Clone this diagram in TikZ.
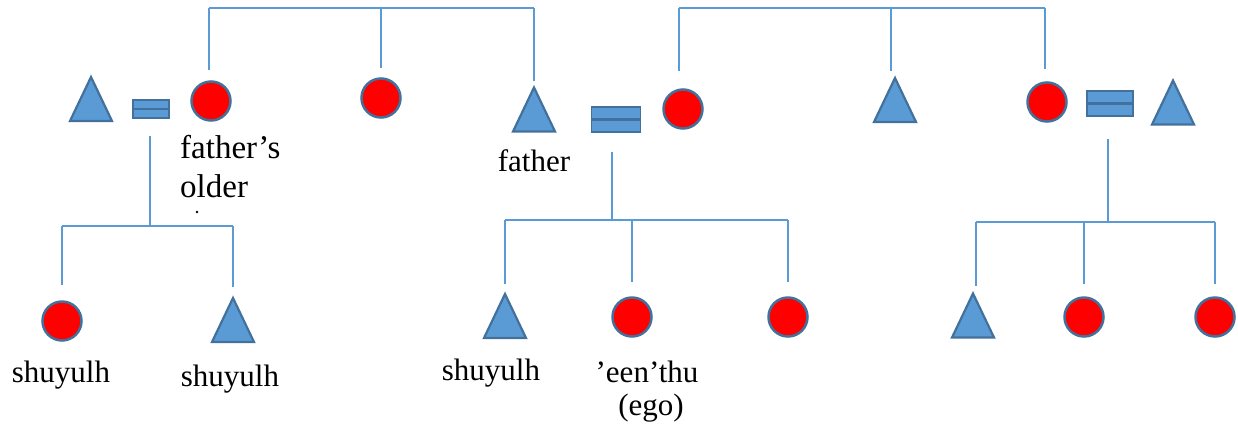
\documentclass[tikz,border=0pt]{standalone}
\usepackage{fontspec}
\setmainfont{Liberation Serif}
\definecolor{kblue}{HTML}{5B9BD5}
\definecolor{kedge}{HTML}{41719C}
\tikzset{
  fem/.style={circle, fill=red, draw=kedge, line width=2.5pt, minimum size=39pt, inner sep=0pt},
  eqbar/.style={rectangle, fill=kblue, draw=kedge, line width=1.8pt, inner sep=0pt},
  kin/.style={draw=kblue, line width=1.5pt},
  lbl/.style={font=\fontsize{31}{34}\selectfont, inner sep=0pt, anchor=base},
  biglbl/.style={font=\fontsize{33}{38}\selectfont, inner sep=0pt, anchor=base west},
  tri/.pic={
    \path[fill=kblue, draw=kedge, line width=2.2pt, line join=miter]
      (-21,22) -- (0,-22) -- (21,22) -- cycle;
    \coordinate (-top) at (0,-22);
  },
}
\begin{document}
\begin{tikzpicture}[x=1pt, y=-1pt]
\useasboundingbox (0,0) rectangle (1238,429);

% ---- top generation ----
\pic (t1) at (91,99) {tri};
\node[eqbar, minimum width=36pt, minimum height=9pt] (e1a) at (151,104.5) {};
\node[eqbar, minimum width=36pt, minimum height=9pt] (e1b) at (151,113.5) {};
\node[fem] (c1) at (211,101) {};
\node[fem] (c2) at (381,98) {};
\pic (t2) at (534,109.5) {tri};
\node[eqbar, minimum width=49pt, minimum height=12pt] (e2a) at (616,113) {};
\node[eqbar, minimum width=49pt, minimum height=12pt] (e2b) at (616,126) {};
\node[fem] (c3) at (683,109) {};
\pic (t3) at (895,100) {tri};
\node[fem] (c4) at (1047,102) {};
\node[eqbar, minimum width=46pt, minimum height=12pt] (e3a) at (1110,97) {};
\node[eqbar, minimum width=46pt, minimum height=12pt] (e3b) at (1110,110) {};
\pic (t4) at (1173,102.5) {tri};

% ---- bottom generation ----
\node[fem] (c5) at (62,321) {};
\pic (t5) at (233,320) {tri};
\pic (t6) at (505,316) {tri};
\node[fem] (c6) at (632,317) {};
\node[fem] (c7) at (788,317) {};
\pic (t7) at (973,315.5) {tri};
\node[fem] (c8) at (1084,317) {};
\node[fem] (c9) at (1215,317) {};

% ---- sibling bars (top) ----
\coordinate (top) at (0,8);
\draw[kin] ([xshift=-2pt]c1.north |- top) -- (t2-top |- top);
\draw[kin, shorten >=10pt] ([xshift=-2pt]c1.north |- top) -- ([xshift=-2pt]c1.north);
\draw[kin, shorten >=9pt] (c2.north |- top) -- (c2.north);
\draw[kin, shorten >=7pt] (t2-top |- top) -- (t2-top);
\draw[kin] ([xshift=-4pt]c3.north |- top) -- ([xshift=-2pt]c4.north |- top);
\draw[kin, shorten >=17pt] ([xshift=-4pt]c3.north |- top) -- ([xshift=-4pt]c3.north);
\draw[kin, shorten >=7pt] ([xshift=-4pt]t3-top |- top) -- ([xshift=-4pt]t3-top);
\draw[kin, shorten >=12pt] ([xshift=-2pt]c4.north |- top) -- ([xshift=-2pt]c4.north);

% ---- family 1 ----
\coordinate (b1) at (150,226);
\draw[kin, shorten <=17pt] ([xshift=-1pt]e1b.south) -- ([xshift=-1pt]e1b.south |- b1);
\draw[kin] (c5.north |- b1) -- (t5-top |- b1);
\draw[kin, shorten >=15pt] (c5.north |- b1) -- (c5.north);
\draw[kin, shorten >=11pt] (t5-top |- b1) -- (t5-top);

% ---- family 2 ----
\coordinate (b2) at (612,220);
\draw[kin, shorten <=19pt] ([xshift=-4pt]e2b.south) -- ([xshift=-4pt]e2b.south |- b2);
\draw[kin] (t6-top |- b2) -- (c7.north |- b2);
\draw[kin, shorten >=10pt] (t6-top |- b2) -- (t6-top);
\draw[kin, shorten >=14pt] (c6.north |- b2) -- (c6.north);
\draw[kin, shorten >=14pt] (c7.north |- b2) -- (c7.north);

% ---- family 3 ----
\coordinate (b3) at (1108,222);
\draw[kin, shorten <=22pt] ([xshift=-2pt]e3b.south) -- ([xshift=-2pt]e3b.south |- b3);
\draw[kin] ([xshift=3pt]t7-top |- b3) -- (c9.north |- b3);
\draw[kin, shorten >=8pt] ([xshift=3pt]t7-top |- b3) -- ([xshift=3pt]t7-top);
\draw[kin, shorten >=12pt] (c8.north |- b3) -- (c8.north);
\draw[kin, shorten >=12pt] (c9.north |- b3) -- (c9.north);

% ---- labels ----
\node[biglbl] (l1) at (180,158) {father’s};
\node[biglbl] (l2) at (180,197) {older};
\fill (197,212) circle (1.3pt);
\node[lbl] (l3) at (534,171) {father};
\node[lbl] (l4) at (61,382) {shuyulh};
\node[lbl] (l5) at (230,386) {shuyulh};
\node[lbl] (l6) at (491,380) {shuyulh};
\node[lbl] (l7) at (647,382) {’een’thu};
\node[lbl] (l8) at (651,415) {(ego)};
\end{tikzpicture}
\end{document}
